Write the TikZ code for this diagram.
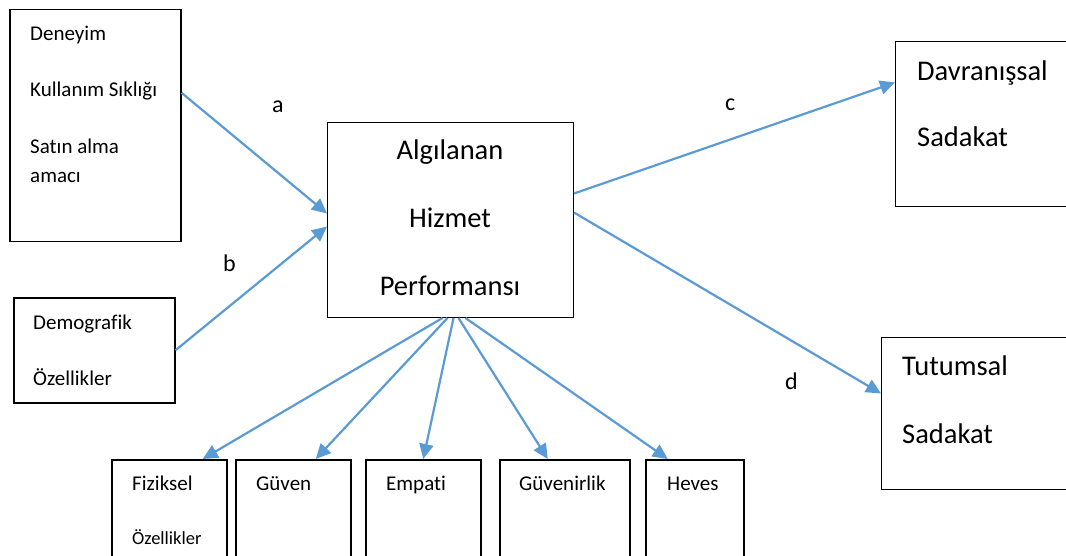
\documentclass[tikz,border=0pt]{standalone}
\usepackage{fontspec}
\setmainfont{Carlito}[Ligatures=NoCommon]
\usetikzlibrary{arrows.meta}
\definecolor{arr}{HTML}{5B9BD5}
\begin{document}
\begin{tikzpicture}[x=1pt,y=-1pt,
  box/.style={draw=black,line width=1.5pt,inner sep=0pt,anchor=north west},
  thinbox/.style={draw=black,line width=1pt,inner sep=0pt,anchor=north west},
  txt/.style={anchor=base west,inner sep=0pt,font=\fontsize{21}{25}\selectfont},
  smalltxt/.style={anchor=base west,inner sep=0pt,font=\fontsize{18.5}{22}\selectfont},
  big/.style={anchor=base west,inner sep=0pt,font=\fontsize{28.5}{34}\selectfont},
  bigc/.style={anchor=base,inner sep=0pt,font=\fontsize{28.5}{34}\selectfont},
  lbl/.style={anchor=base west,inner sep=0pt,font=\fontsize{24}{29}\selectfont},
  conn/.style={draw=arr,line width=2.2pt,-{Triangle[length=15pt,width=14pt]}}]
\useasboundingbox (0,0) rectangle (1066,556);
\clip (0,0) rectangle (1066,556);
\fill[white] (0,0) rectangle (1066,556);

% boxes
\node[box,minimum width=171pt,minimum height=232pt] (src) at (9,9) {};
\node[box,minimum width=161pt,minimum height=105pt] (demo) at (13,297) {};
\node[thinbox,minimum width=246pt,minimum height=195pt] (cen) at (327,122) {};
\node[thinbox,minimum width=200pt,minimum height=165pt] (dav) at (895,41) {};
\node[thinbox,minimum width=200pt,minimum height=152pt] (tut) at (881,337) {};
\node[box,minimum width=115pt,minimum height=140pt] (fiz) at (111,459) {};
\node[box,minimum width=115pt,minimum height=140pt] (guv) at (235,459) {};
\node[box,minimum width=115pt,minimum height=140pt] (emp) at (365,459) {};
\node[box,minimum width=130pt,minimum height=140pt] (gvr) at (499,459) {};
\node[box,minimum width=98pt,minimum height=140pt] (hev) at (645,459) {};

% texts
\node[txt] (t1) at (30,41) {Deneyim};
\node[txt] (t2) at (30,97) {Kullanım Sıklığı};
\node[txt] (t3) at (30,154) {Satın alma};
\node[txt] (t4) at (30,183) {amacı};
\node[txt] (t5) at (33,329) {Demografik};
\node[txt] (t6) at (33,385) {Özellikler};
\node[bigc] (t7) at (450,160) {Algılanan};
\node[bigc] (t8) at (450,228) {Hizmet};
\node[bigc] (t9) at (450,295) {Performansı};
\node[big] (t10) at (917,81) {Davranışsal};
\node[big] (t11) at (917,147) {Sadakat};
\node[big] (t12) at (902,375) {Tutumsal};
\node[big] (t13) at (902,443) {Sadakat};
\node[txt] (t14) at (132,490) {Fiziksel};
\node[smalltxt] (t15) at (132,544) {Özellikler};
\node[txt] (t16) at (256,490) {Güven};
\node[txt] (t17) at (386,490) {Empati};
\node[txt] (t18) at (519,490) {Güvenirlik};
\node[txt] (t19) at (667,490) {Heves};

% labels
\node[lbl] (la) at (272,113) {a};
\node[lbl] (lb) at (223,272) {b};
\node[lbl] (lc) at (725,111) {c};
\node[lbl] (ld) at (785,389) {d};

% connectors
\draw[conn] ([yshift=33pt]src.east) -- ([yshift=6.5pt]cen.west);
\draw[conn] (demo.east) -- ([yshift=-6.5pt]cen.west);
\draw[conn] ([yshift=26.5pt]cen.east) -- ([yshift=41.5pt]dav.west);
\draw[conn] ([yshift=7.5pt]cen.east) -- ([yshift=20pt]tut.west);
\draw[conn] ([xshift=-8pt]cen.south) -- ([xshift=33.5pt]fiz.north);
\draw[conn] ([xshift=-3pt]cen.south) -- ([xshift=22.5pt]guv.north);
\draw[conn] ([xshift=3pt]cen.south) -- (emp.north);
\draw[conn] ([xshift=8pt]cen.south) -- ([xshift=-17pt]gvr.north);
\draw[conn] ([xshift=15pt]cen.south) -- ([xshift=-27pt]hev.north);
\end{tikzpicture}
\end{document}
